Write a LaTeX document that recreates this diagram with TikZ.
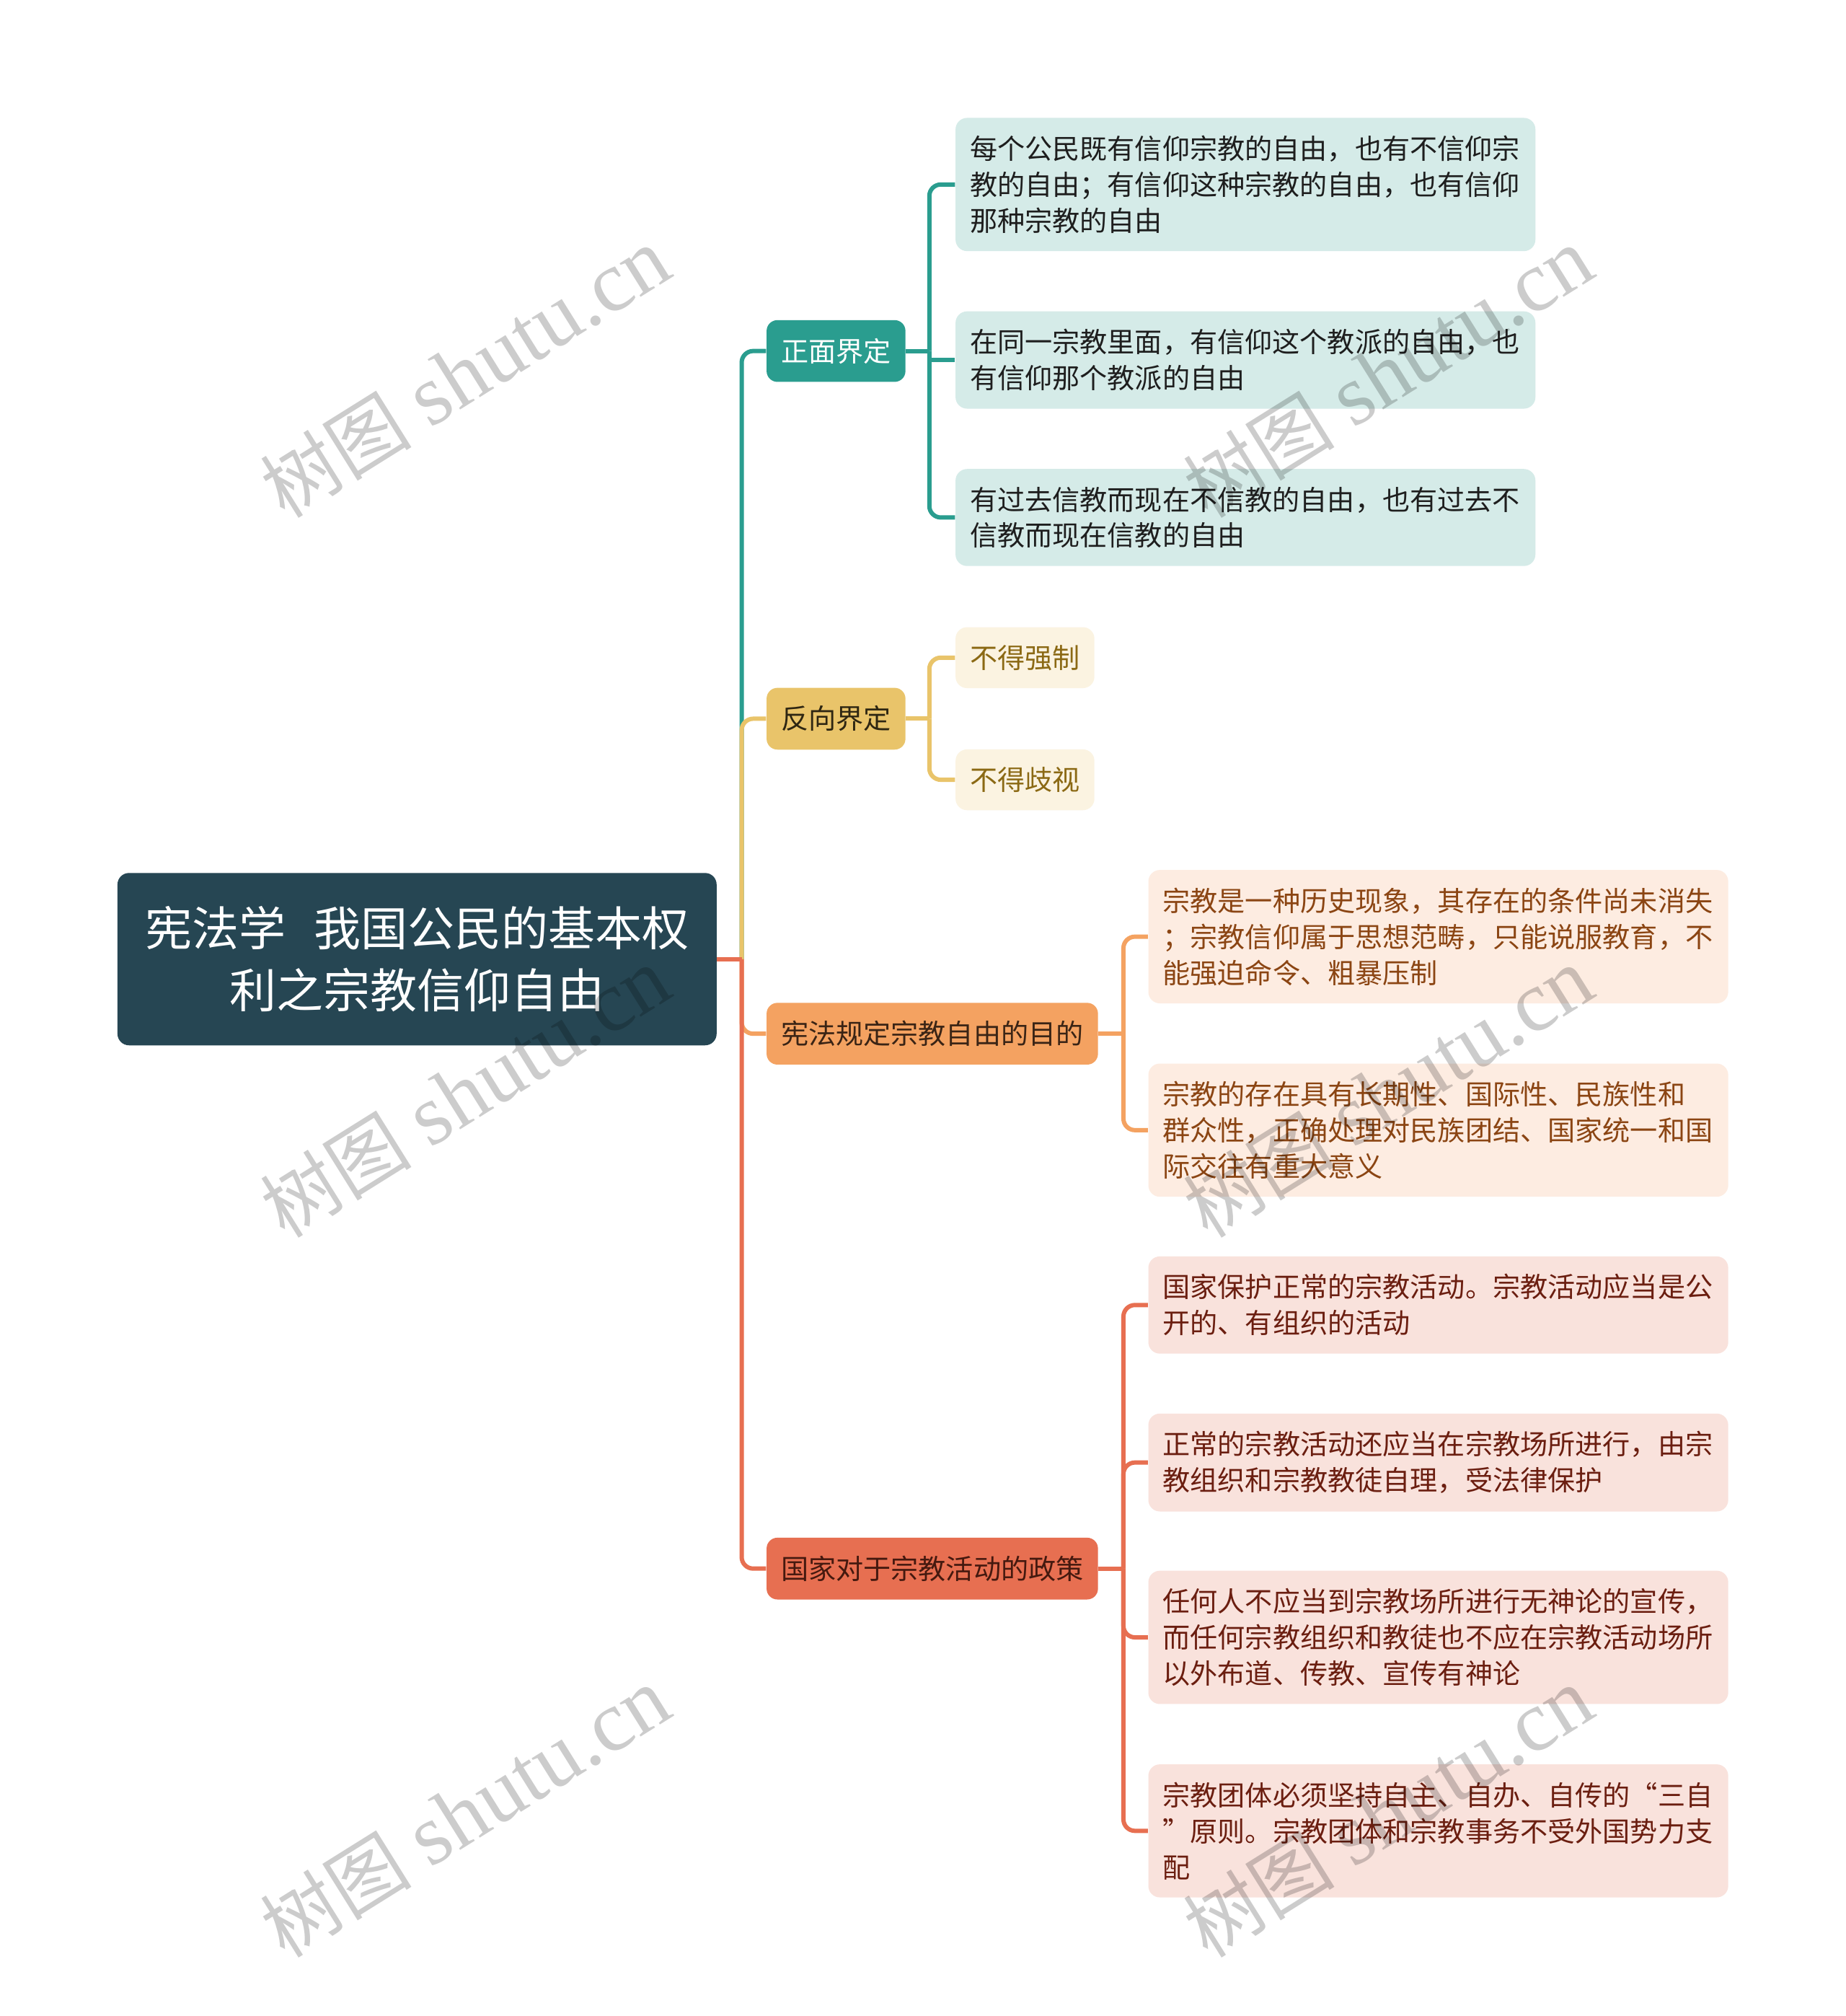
\documentclass[tikz,border=0pt]{standalone}
\usepackage{fontspec}
\setmainfont{Noto Sans CJK SC}
\newfontfamily\wmlatin{Liberation Serif}
\definecolor{rootc}{HTML}{264653}
\definecolor{tealc}{HTML}{2A9D8F}
\definecolor{tealf}{HTML}{D5EBE8}
\definecolor{tealt}{HTML}{1E1E1E}
\definecolor{yelc}{HTML}{E9C46A}
\definecolor{yelf}{HTML}{FBF3E1}
\definecolor{yelt}{HTML}{8B6914}
\definecolor{yeltt}{HTML}{2E2612}
\definecolor{orac}{HTML}{F4A261}
\definecolor{oraf}{HTML}{FDECE1}
\definecolor{orat}{HTML}{8B4513}
\definecolor{oratt}{HTML}{3A2415}
\definecolor{redc}{HTML}{E76F51}
\definecolor{redf}{HTML}{F9E2DC}
\definecolor{redt}{HTML}{6B1E10}
\definecolor{redtt}{HTML}{45190F}
\begin{document}
\begin{tikzpicture}[x=0.017827cm,y=-0.017827cm,
  rootbox/.style={fill=rootc,text=white,rounded corners=0.16cm,anchor=west,
    minimum width=8.307cm,minimum height=2.389cm,align=center,
    font=\fontsize{18.5}{24.4}\selectfont},
  topicbox/.style={rounded corners=0.15cm,anchor=west,inner xsep=0.2cm,
    minimum height=0.856cm,font=\fontsize{10.85}{14.2}\selectfont},
  leafbox/.style={rounded corners=0.16cm,anchor=west,inner xsep=0.2cm,
    inner ysep=7pt,align=left,font=\fontsize{10.85}{14.2}\selectfont},
  wide/.style={text width=7.64cm},
  link/.style={line width=1.7pt,rounded corners=0.16cm},
  wm/.style={rotate=32,text=black,text opacity=0.2,
    font=\fontsize{34}{34}\selectfont}
]
\path[fill=white,use as bounding box] (0,0) rectangle (1436,1568);

\node[rootbox] (root) at (91,746)
{宪法学\hspace{0.6em}我国公民的基本权\\利之宗教信仰自由};

\node[topicbox,fill=tealc,text=white] (zm) at (596,273) {正面界定};
\node[topicbox,fill=yelc,text=yeltt] (fx) at (596,559) {反向界定};
\node[topicbox,fill=orac,text=oratt] (md) at (596,804) {宪法规定宗教自由的目的};
\node[topicbox,fill=redc,text=redtt] (zc) at (596,1220) {国家对于宗教活动的政策};

\node[leafbox,wide,fill=tealf,text=tealt] (z1) at (743,143.5)
{每个公民既有信仰宗教的自由，也有不信仰宗\\教的自由；有信仰这种宗教的自由，也有信仰\\那种宗教的自由};
\node[leafbox,wide,fill=tealf,text=tealt] (z2) at (743,280)
{在同一宗教里面，有信仰这个教派的自由，也\\有信仰那个教派的自由};
\node[leafbox,wide,fill=tealf,text=tealt] (z3) at (743,402.5)
{有过去信教而现在不信教的自由，也有过去不\\信教而现在信教的自由};

\node[leafbox,fill=yelf,text=yelt] (f1) at (743,511.5) {不得强制};
\node[leafbox,fill=yelf,text=yelt] (f2) at (743,606.5) {不得歧视};

\node[leafbox,wide,fill=oraf,text=orat] (m1) at (893,728.5)
{宗教是一种历史现象，其存在的条件尚未消失\\；宗教信仰属于思想范畴，只能说服教育，不\\能强迫命令、粗暴压制};
\node[leafbox,wide,fill=oraf,text=orat] (m2) at (893,879)
{宗教的存在具有长期性、国际性、民族性和\\群众性，正确处理对民族团结、国家统一和国\\际交往有重大意义};

\node[leafbox,wide,fill=redf,text=redt] (c1) at (893,1015)
{国家保护正常的宗教活动。宗教活动应当是公\\开的、有组织的活动};
\node[leafbox,wide,fill=redf,text=redt] (c2) at (893,1137.5)
{正常的宗教活动还应当在宗教场所进行，由宗\\教组织和宗教教徒自理，受法律保护};
\node[leafbox,wide,fill=redf,text=redt] (c3) at (893,1273.5)
{任何人不应当到宗教场所进行无神论的宣传，\\而任何宗教组织和教徒也不应在宗教活动场所\\以外布道、传教、宣传有神论};
\node[leafbox,wide,fill=redf,text=redt] (c4) at (893,1424)
{宗教团体必须坚持自主、自办、自传的“三自\\”原则。宗教团体和宗教事务不受外国势力支\\配};

\coordinate (trunk) at (577,746);
\coordinate (zmj) at (723,273);
\coordinate (fxj) at (723,559);
\coordinate (mdj) at (874,804);
\coordinate (zcj) at (874,1220);

\draw[link,tealc] (trunk) |- (zm.west);
\draw[link,yelc] (trunk) |- (fx.west);
\draw[link,orac] (trunk) |- (md.west);
\draw[link,redc] (trunk) |- (zc.west);
\draw[link,redc] (root.east) -- (trunk);

\draw[link,tealc] (zm.east) -- (zmj);
\draw[link,tealc] (zmj) |- (z1.west);
\draw[link,tealc] (z2.west -| zmj) -- (z2.west);
\draw[link,tealc] (zmj) |- (z3.west);

\draw[link,yelc] (fx.east) -- (fxj);
\draw[link,yelc] (fxj) |- (f1.west);
\draw[link,yelc] (fxj) |- (f2.west);

\draw[link,orac] (md.east) -- (mdj);
\draw[link,orac] (mdj) |- (m1.west);
\draw[link,orac] (mdj) |- (m2.west);

\draw[link,redc] (zc.east) -- (zcj);
\draw[link,redc] (zcj) |- (c1.west);
\draw[link,redc] (zcj) |- (c2.west);
\draw[link,redc] (zcj) |- (c3.west);
\draw[link,redc] (zcj) |- (c4.west);

\node[wm] (wm1) at (362,290) {{\fontsize{30}{30}\selectfont 树图} {\wmlatin shutu.cn}};
\node[wm] (wm2) at (1080,290) {{\fontsize{30}{30}\selectfont 树图} {\wmlatin shutu.cn}};
\node[wm] (wm3) at (362,850) {{\fontsize{30}{30}\selectfont 树图} {\wmlatin shutu.cn}};
\node[wm] (wm4) at (1080,850) {{\fontsize{30}{30}\selectfont 树图} {\wmlatin shutu.cn}};
\node[wm] (wm5) at (362,1410) {{\fontsize{30}{30}\selectfont 树图} {\wmlatin shutu.cn}};
\node[wm] (wm6) at (1080,1410) {{\fontsize{30}{30}\selectfont 树图} {\wmlatin shutu.cn}};
\end{tikzpicture}
\end{document}
